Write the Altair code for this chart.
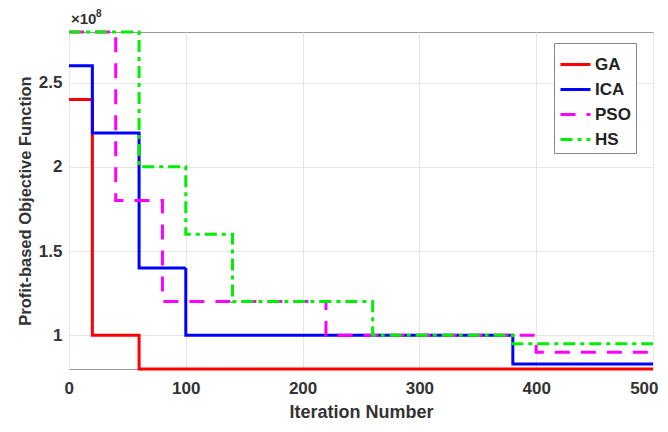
import altair as alt
import pandas as pd

series = ["GA", "ICA", "PSO", "HS"]
ga_x = [0, 20, 60, 500]
ga_y = [2.4, 1.0, 0.8, 0.8]
ica_x = [0, 20, 60, 100, 380, 500]
ica_y = [2.6, 2.2, 1.4, 1.0, 0.83, 0.83]
pso_x = [0, 40, 80, 220, 400, 500]
pso_y = [2.8, 1.8, 1.2, 1.0, 0.9, 0.9]
hs_x = [0, 60, 100, 140, 260, 380, 500]
hs_y = [2.8, 2.0, 1.6, 1.2, 1.0, 0.95, 0.95]
colors = ["#ff0000", "#0000ff", "#ff00ff", "#00ee00"]
dashes = [[1, 0], [1, 0], [15, 11], [12, 5, 4, 5]]

rows = []
for name, xs, ys in zip(series, [ga_x, ica_x, pso_x, hs_x], [ga_y, ica_y, pso_y, hs_y]):
    for i, (x, y) in enumerate(zip(xs, ys)):
        rows.append({"alg": name, "iter": x, "val": y, "ord": i})
df = pd.DataFrame(rows)

FONT = "Liberation Sans"
TXT = "#333333"

leg = dict(title=None, orient="none", legendX=485, legendY=11,
           symbolType="stroke", symbolStrokeWidth=3, symbolSize=900,
           labelFontSize=17, labelFont=FONT, labelFontWeight="bold",
           labelColor="#222222", strokeColor="#888888", fillColor="white",
           padding=5, rowPadding=0, labelOffset=3)

lines = alt.Chart(df).mark_line(interpolate="step-after", strokeWidth=3, clip=False).encode(
    x=alt.X("iter:Q", scale=alt.Scale(domain=[0, 500], nice=False),
            axis=alt.Axis(values=[0, 100, 200, 300, 400, 500], title="Iteration Number",
                          titleFontSize=18, titleFont=FONT, titleFontWeight="bold", titleColor=TXT,
                          labelFontSize=17, labelFont=FONT, labelFontWeight="bold", labelColor=TXT,
                          labelFlush=True, labelFlushOffset=5,
                          titlePadding=7, labelPadding=11, tickSize=0, domain=False,
                          gridColor="#e6e6e6")),
    y=alt.Y("val:Q", scale=alt.Scale(domain=[0.8, 2.8], nice=False, zero=False),
            axis=alt.Axis(values=[1, 1.5, 2, 2.5], format="~g", title="Profit-based Objective Function",
                          titleFontSize=16.5, titleFont=FONT, titleFontWeight="bold", titleColor=TXT,
                          labelFontSize=17, labelFont=FONT, labelFontWeight="bold", labelColor=TXT,
                          labelFlush=False,
                          titlePadding=5, labelPadding=7, tickSize=0, domain=False,
                          gridColor="#e6e6e6")),
    color=alt.Color("alg:N", scale=alt.Scale(domain=series, range=colors), legend=alt.Legend(**leg)),
    strokeDash=alt.StrokeDash("alg:N", scale=alt.Scale(domain=series, range=dashes),
                              legend=alt.Legend(**leg)),
    order="ord:Q",
)

mult = alt.Chart(pd.DataFrame({"t": ["×10"]})).mark_text(
    font=FONT, fontSize=15, fontWeight="bold", color=TXT, align="left", baseline="middle"
).encode(x=alt.value(2), y=alt.value(-13), text="t:N")
sup = alt.Chart(pd.DataFrame({"t": ["8"]})).mark_text(
    font=FONT, fontSize=10, fontWeight="bold", color=TXT, align="left", baseline="middle"
).encode(x=alt.value(27), y=alt.value(-18), text="t:N")

chart = alt.layer(lines, mult, sup).properties(
    width=584, height=337,
    autosize=alt.AutoSizeParams(type="none"),
    padding={"left": 61, "top": 24, "right": 7, "bottom": 60},
).configure_view(stroke="#999999", strokeWidth=1)

chart.save("out.html", embed_options={"renderer": "svg", "actions": False})
